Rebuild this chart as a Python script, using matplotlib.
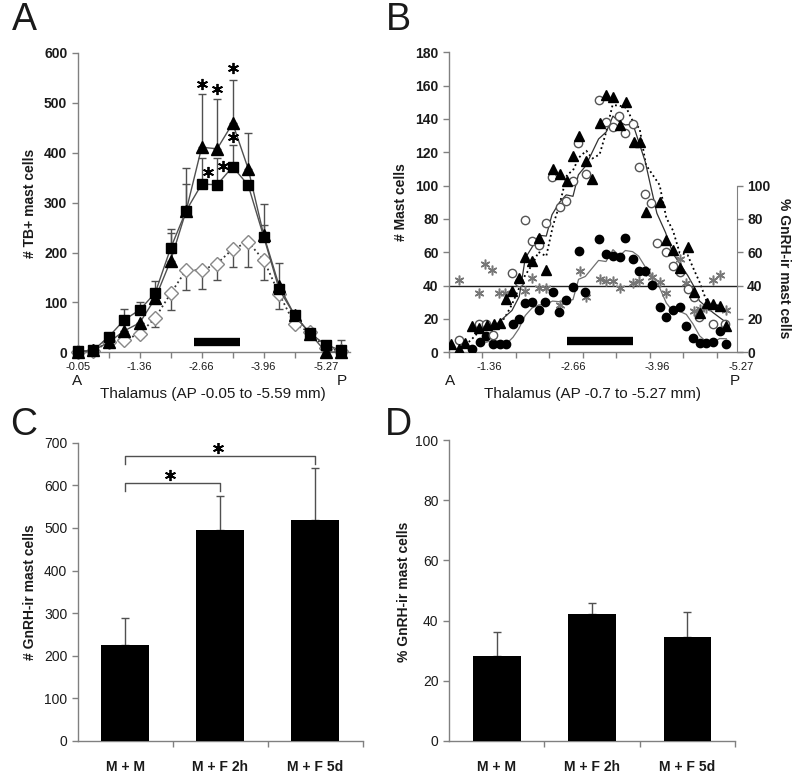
import matplotlib.pyplot as plt
import numpy as np
import pandas as pd

plt.rcParams['font.family'] = ['Liberation Sans', 'DejaVu Sans']

W, H = 800, 781
fig = plt.figure(figsize=(8, 7.81), dpi=100)

axis_grey = '#808080'
line_grey = '#505050'
text_c = '#1a1a1a'


def box(l, t, r, b):
    # pixel box -> figure fraction
    return [l / W, 1 - b / H, (r - l) / W, (b - t) / H]


def ftext(x, y, s, **kw):
    fig.text(x / W, 1 - y / H, s, color=text_c, **kw)


def style_axis(ax, bold_ticks=False):
    for side in ['top', 'right']:
        ax.spines[side].set_visible(False)
    for side in ['left', 'bottom']:
        ax.spines[side].set_color(axis_grey)
        ax.spines[side].set_linewidth(1.0)
    ax.tick_params(colors=axis_grey, length=4, width=1, direction='out',
                   labelcolor=text_c)
    ax.tick_params(axis='y', labelsize=10)
    if bold_ticks:
        for t in ax.get_yticklabels():
            t.set_fontweight('bold')


# ---------------- data ----------------
# panel A: 18 sections along the thalamus
a_idx = np.arange(18)
a_tick_pos = np.arange(0, 17, 2)
a_tick_lab = ['-0.05', '', '-1.36', '', '-2.66', '', '-3.96', '', '-5.27']
a_squares = [2, 4, 31, 65, 85, 119, 209, 284, 337, 336, 372, 335, 232, 126, 74, 38, 15, 4]
a_square_err = [0, 0, 0, 21, 16, 23, 38, 53, 52, 53, 44, 0, 66, 53, 0, 0, 0, 20]
a_triangles = [0, 4, 20, 43, 59, 108, 184, 284, 411, 408, 459, 368, 235, 133, 74, 37, 1, 0]
a_tri_err = [0, 0, 0, 0, 0, 0, 56, 85, 106, 99, 87, 71, 20, 0, 0, 0, 0, 0]
a_diamonds = [0, 3, 20, 25, 37, 69, 118, 165, 164, 178, 207, 221, 185, 117, 56, 40, 8, 3]
a_dia_err = [0, 0, 0, 5, 7, 19, 33, 40, 37, 33, 36, 49, 40, 30, 0, 0, 0, 0]
a_star_x = [8, 9, 10, 10, 8.4, 9.4]
a_star_y = [537, 528, 569, 431, 361, 374]

# panel B: counts per section (mm from bregma)
b_tri_mm = [-0.764, -0.88, -0.982, -1.085, -1.189, -1.319, -1.422, -1.526, -1.614, -1.707,
            -1.811, -1.914, -2.018, -2.121, -2.241, -2.345, -2.448, -2.563, -2.656, -2.749,
            -2.863, -2.956, -3.07, -3.169, -3.271, -3.38, -3.484, -3.598, -3.691, -3.79,
            -4.002, -4.106, -4.21, -4.313, -4.437, -4.53, -4.634, -4.738, -4.832, -4.934, -5.038]
b_tri_val = [5.0, 2.0, 5.8, 15.9, 14.7, 16.3, 16.9, 17.3, 31.7, 36.9,
             44.8, 57.2, 54.8, 68.5, 49.6, 109.8, 106.8, 102.8, 117.8, 130,
             115, 103.8, 137.4, 154.2, 153.4, 136.4, 150.4, 126.4, 126.4, 84.4,
             90.4, 67.4, 61.4, 50.4, 63.4, 36.4, 23.8, 29.4, 29, 27.8, 15.8]
b_circ_mm = [-0.878, -1.189, -1.304, -1.407, -1.708, -1.822, -1.915, -2.019, -2.121, -2.241,
             -2.33, -2.448, -2.552, -2.656, -2.74, -2.852, -3.054, -3.174, -3.277, -3.365,
             -3.469, -3.588, -3.675, -3.779, -3.87, -3.96, -4.095, -4.21, -4.313, -4.44,
             -4.53, -4.62, -4.83, -5.02]
b_circ_val = [7.4, 17, 17, 10.4, 47.8, 42.4, 79.4, 67, 64.4, 77.8,
              105.4, 87, 91, 102.8, 125.6, 107, 151.4, 138.4, 135.4, 142,
              131.8, 136.8, 111.4, 94.8, 89.6, 65.8, 60, 51.8, 48.4, 37.8,
              33.4, 21.4, 16.8, 17]
b_fill_mm = [-1.086, -1.204, -1.304, -1.413, -1.516, -1.62, -1.724, -1.811, -1.915, -2.019,
             -2.121, -2.226, -2.339, -2.432, -2.552, -2.656, -2.743, -2.847, -3.054, -3.169,
             -3.278, -3.38, -3.47, -3.582, -3.675, -3.779, -3.883, -4.002, -4.106, -4.21,
             -4.313, -4.417, -4.52, -4.624, -4.727, -4.832, -4.934, -5.038]
b_fill_val = [1.8, 6.4, 9.8, 5, 5, 5, 17, 19.8, 29.4, 30.4,
              25.4, 30.4, 36.4, 24.4, 31.4, 39, 61, 36.4, 68, 59,
              57.8, 57, 68.4, 55.8, 49, 49, 40.4, 27, 21.4, 25.4,
              27, 15.8, 8.4, 5.4, 5.4, 6.4, 13, 5]
b_pct_mm = [-0.878, -1.189, -1.293, -1.396, -1.5, -1.603, -1.915, -2.018, -2.121, -2.241,
            -2.448, -2.759, -2.857, -3.08, -3.174, -3.278, -3.38, -3.588, -3.676, -3.795,
            -3.884, -4.002, -4.106, -4.313, -4.417, -4.53, -4.634, -4.727, -4.832, -4.934, -5.038]
b_pct_val = [43.6, 35.3, 53.2, 49.6, 35.3, 35.3, 37, 44.8, 38.8, 38.8,
             28.3, 48.8, 33.3, 43.8, 42.8, 42.8, 38.4, 41.8, 43, 48.8,
             45, 42.4, 35.8, 55.8, 41.4, 25, 25.8, 26.4, 43.4, 46.4, 25.4]
b_pct_mean = 40
b_tick_mm = [-1.36, -2.66, -3.96, -5.27]

# panels C and D
groups = ['M + M', 'M + F 2h', 'M + F 5d']
c_vals = [225, 496, 518]
c_err = [63, 79, 123]
d_vals = [28.2, 42.2, 34.7]
d_err = [7.9, 3.5, 8.0]

# ---------------- panel A ----------------
ax = fig.add_axes(box(77.7, 53, 350, 352.3))
ax.set_xlim(0, 17.57)
ax.set_ylim(0, 600)
ax.errorbar(a_idx, a_diamonds, yerr=[a_dia_err, [0] * 18], fmt='none', ecolor=line_grey,
            elinewidth=1, capsize=3, capthick=1, zorder=2, clip_on=False)
ax.errorbar(a_idx, a_squares, yerr=[[0] * 18, a_square_err], fmt='none', ecolor=line_grey,
            elinewidth=1, capsize=3, capthick=1, zorder=2, clip_on=False)
ax.errorbar(a_idx, a_triangles, yerr=[[0] * 18, a_tri_err], fmt='none', ecolor=line_grey,
            elinewidth=1, capsize=3, capthick=1, zorder=2, clip_on=False)
ax.plot(a_idx, a_diamonds, ls=':', color='#333333', lw=1.3, marker='D', ms=7,
        mfc='white', mec='#888888', mew=1, zorder=3, clip_on=False)
ax.plot(a_idx, a_triangles, ls='-', color=line_grey, lw=1, marker='^', ms=8,
        mfc='black', mec='black', zorder=4, clip_on=False)
ax.plot(a_idx, a_squares, ls='-', color=line_grey, lw=1, marker='s', ms=7.5,
        mfc='black', mec='black', zorder=5, clip_on=False)
ax.plot(a_star_x, a_star_y, ls='none', marker=(6, 2, 0), ms=8, mew=1.3, color='black', zorder=6)
ax.plot([7.52, 10.5], [21, 21], color='black', lw=6, solid_capstyle='butt', zorder=6)
ax.set_xticks(a_tick_pos)
ax.set_xticklabels(a_tick_lab, fontsize=7.5)
ax.set_yticks(range(0, 601, 100))
style_axis(ax, bold_ticks=True)
ax.tick_params(axis='x', labelsize=8, pad=3)

ftext(30, 203, '# TB+ mast cells', rotation=90, ha='center', va='center',
      fontsize=10, fontweight='bold')
ftext(77, 381, 'A', ha='center', va='center', fontsize=11)
ftext(342, 381, 'P', ha='center', va='center', fontsize=11)
ftext(213, 394, 'Thalamus (AP -0.05 to -5.59 mm)', ha='center', va='center', fontsize=11)

# ---------------- panel B ----------------
bx = fig.add_axes(box(449, 52.3, 747, 352.3))
bx.set_xlim(-0.73, -5.36)
bx.set_ylim(0, 180)
tri_ma = pd.Series(b_tri_val).rolling(3).mean()
circ_ma = pd.Series(b_circ_val).rolling(3).mean()
fill_ma = pd.Series(b_fill_val).rolling(3).mean()
bx.plot(b_tri_mm, tri_ma, ls=':', color='black', lw=1.3, zorder=2)
bx.plot(b_circ_mm, circ_ma, ls='-', color='#333333', lw=0.9, zorder=2)
bx.plot(b_fill_mm, fill_ma, ls='-', color='#707070', lw=0.9, zorder=2)
bx.axhline(b_pct_mean, xmin=0, xmax=0.9654, color='#222222', lw=1, zorder=2)
bx.plot(b_pct_mm, b_pct_val, ls='none', marker=(6, 2, 0), ms=7, mew=1.1,
        color='#777777', zorder=3)
bx.plot(b_fill_mm, b_fill_val, ls='none', marker='o', ms=6, color='black', zorder=4)
bx.plot(b_circ_mm, b_circ_val, ls='none', marker='o', ms=6, mfc='white',
        mec='#555555', mew=1, zorder=4)
bx.plot(b_tri_mm, b_tri_val, ls='none', marker='^', ms=6.5, color='black', zorder=5)
bx.plot([-2.562, -3.582], [6.8, 6.8], color='black', lw=6, solid_capstyle='butt', zorder=6)
bx.set_yticks(range(0, 181, 20))
bx.set_xticks(b_tick_mm)
bx.set_xticklabels([f'{v:.2f}' for v in b_tick_mm], fontsize=8)
bx.set_xticks(np.arange(-0.73, -5.4, -0.52), minor=True)
style_axis(bx, bold_ticks=True)
bx.tick_params(axis='x', which='major', length=0, pad=7, labelsize=8)
bx.tick_params(axis='x', which='minor', length=4, width=1, color=axis_grey)

br = bx.twinx()
br.set_ylim(0, 180)
br.set_yticks(range(0, 101, 20))
for side in ['top', 'left', 'bottom']:
    br.spines[side].set_visible(False)
br.spines['right'].set_position(('axes', 0.9654))
br.spines['right'].set_bounds(0, 100)
br.spines['right'].set_color(axis_grey)
br.tick_params(colors=axis_grey, length=4, width=1, labelcolor=text_c, labelsize=10)
for t in br.get_yticklabels():
    t.set_fontweight('bold')

ftext(401, 202, '# Mast cells', rotation=90, ha='center', va='center',
      fontsize=10, fontweight='bold')
ftext(784, 268, '% GnRH-ir mast cells', rotation=-90, ha='center', va='center',
      fontsize=10, fontweight='bold')
ftext(450, 381, 'A', ha='center', va='center', fontsize=11)
ftext(735, 381, 'P', ha='center', va='center', fontsize=11)
ftext(593, 394, 'Thalamus (AP -0.7 to -5.27 mm)', ha='center', va='center', fontsize=11)

# ---------------- panel C ----------------
cx = fig.add_axes(box(77.7, 442.7, 362.7, 741))
xpos = np.arange(len(groups))
cx.bar(xpos, c_vals, width=0.5, color='black', zorder=3)
cx.errorbar(xpos, c_vals, yerr=[[0] * 3, c_err], fmt='none', ecolor=line_grey,
            elinewidth=1, capsize=3, capthick=1, zorder=2)
cx.set_xlim(-0.5, 2.5)
cx.set_ylim(0, 700)
cx.set_yticks(range(0, 701, 100))
cx.set_xticks(xpos)
cx.set_xticklabels(groups, fontsize=10, fontweight='bold')
cx.set_xticks([0.5, 1.5, 2.5], minor=True)
style_axis(cx)
cx.tick_params(axis='x', which='major', length=0, pad=14)
cx.tick_params(axis='x', which='minor', length=4, width=1, color=axis_grey)
# significance brackets
cx.plot([0, 0, 1, 1], [587, 606, 606, 587], color=line_grey, lw=1)
cx.plot([0, 0, 2, 2], [651, 668, 668, 651], color=line_grey, lw=1)
cx.plot([0.47, 0.98], [624, 688], ls='none', marker=(6, 2, 0), ms=8, mew=1.3, color='black')
ftext(30, 592, '# GnRH-ir mast cells', rotation=90, ha='center', va='center',
      fontsize=10, fontweight='bold')

# ---------------- panel D ----------------
dx = fig.add_axes(box(449, 440, 735, 741))
dx.bar(xpos, d_vals, width=0.5, color='black', zorder=3)
dx.errorbar(xpos, d_vals, yerr=[[0] * 3, d_err], fmt='none', ecolor=line_grey,
            elinewidth=1, capsize=3, capthick=1, zorder=2)
dx.set_xlim(-0.5, 2.5)
dx.set_ylim(0, 100)
dx.set_yticks(range(0, 101, 20))
dx.set_xticks(xpos)
dx.set_xticklabels(groups, fontsize=10, fontweight='bold')
dx.set_xticks([0.5, 1.5, 2.5], minor=True)
style_axis(dx)
dx.tick_params(axis='x', which='major', length=0, pad=14)
dx.tick_params(axis='x', which='minor', length=4, width=1, color=axis_grey)
ftext(404, 592, '% GnRH-ir mast cells', rotation=90, ha='center', va='center',
      fontsize=10, fontweight='bold')

# panel letters
for lx, ly, s in [(24, 20, 'A'), (398, 20, 'B'), (24, 425, 'C'), (398, 425, 'D')]:
    ftext(lx, ly, s, ha='center', va='center', fontsize=27)

fig.savefig('out.png', dpi=100, facecolor='white')
